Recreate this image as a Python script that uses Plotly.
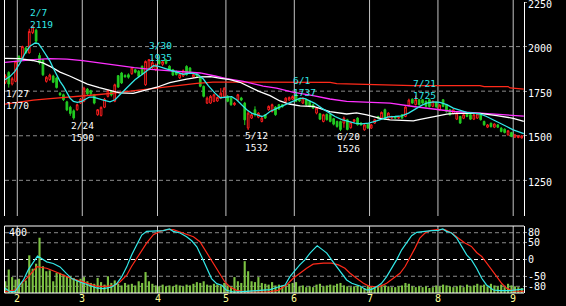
import plotly.graph_objects as go

# ---------------- data ----------------
opens = [1800, 1855, 1790, 1805, 1945, 1935, 1992, 1965, 2078, 2092,
         1950, 1925, 1805, 1815, 1835, 1824, 1738, 1730, 1690, 1660,
         1640, 1646, 1683, 1693, 1762, 1752, 1730, 1618, 1614, 1660,
         1721, 1748, 1693, 1837, 1852, 1838, 1842, 1848, 1870, 1862,
         1889, 1786, 1871, 1880, 1870, 1922, 1900, 1925, 1890, 1870,
         1860, 1825, 1835, 1889, 1880, 1830, 1848, 1824, 1777, 1683,
         1683, 1693, 1695, 1711, 1721, 1721, 1711, 1674, 1700, 1712,
         1683, 1543, 1599, 1646, 1604, 1580, 1618, 1646, 1636, 1661,
         1674, 1674, 1693, 1700, 1705, 1730, 1705, 1683, 1702, 1693,
         1674, 1627, 1623, 1580, 1620, 1618, 1596, 1580, 1580, 1571,
         1590, 1545, 1580, 1599, 1571, 1533, 1565, 1543, 1571, 1608,
         1599, 1646, 1599, 1599, 1608, 1599, 1618, 1608, 1670, 1705,
         1674, 1702, 1702, 1693, 1702, 1665, 1688, 1645, 1702, 1674,
         1646, 1625, 1593, 1608, 1598, 1627, 1618, 1593, 1599, 1618,
         1580, 1548, 1570, 1548, 1561, 1543, 1537, 1505, 1518, 1492,
         1490, 1488]
highs = [1845, 1862, 1830, 1920, 1952, 2005, 2000, 2100, 2119, 2100,
         1965, 1930, 1835, 1848, 1842, 1830, 1745, 1736, 1696, 1668,
         1648, 1680, 1712, 1775, 1768, 1758, 1735, 1650, 1665, 1712,
         1760, 1752, 1792, 1840, 1858, 1845, 1850, 1885, 1876, 1868,
         1895, 1922, 1930, 1935, 1905, 1928, 1920, 1930, 1895, 1875,
         1866, 1852, 1872, 1895, 1885, 1848, 1852, 1830, 1782, 1720,
         1728, 1736, 1720, 1767, 1772, 1728, 1715, 1690, 1735, 1718,
         1690, 1640, 1625, 1665, 1632, 1605, 1622, 1670, 1680, 1666,
         1678, 1678, 1716, 1720, 1726, 1737, 1710, 1716, 1708, 1698,
         1680, 1660, 1628, 1623, 1625, 1622, 1600, 1585, 1585, 1608,
         1595, 1580, 1594, 1604, 1576, 1566, 1570, 1566, 1595, 1612,
         1636, 1652, 1632, 1612, 1612, 1608, 1622, 1666, 1708, 1710,
         1725, 1706, 1706, 1698, 1706, 1698, 1692, 1676, 1706, 1678,
         1650, 1650, 1632, 1612, 1622, 1632, 1622, 1622, 1628, 1622,
         1585, 1566, 1574, 1570, 1565, 1548, 1541, 1532, 1522, 1509,
         1504, 1503]
lows = [1790, 1770, 1782, 1800, 1908, 1925, 1958, 1960, 2070, 2020,
        1900, 1835, 1798, 1808, 1795, 1765, 1722, 1695, 1638, 1612,
        1590, 1640, 1678, 1688, 1728, 1728, 1676, 1612, 1608, 1655,
        1715, 1720, 1688, 1768, 1790, 1826, 1820, 1842, 1850, 1828,
        1840, 1780, 1865, 1872, 1862, 1898, 1890, 1900, 1865, 1835,
        1838, 1818, 1830, 1838, 1846, 1824, 1828, 1772, 1715, 1678,
        1678, 1688, 1690, 1705, 1715, 1688, 1668, 1668, 1695, 1694,
        1560, 1532, 1594, 1608, 1598, 1575, 1594, 1640, 1630, 1612,
        1645, 1658, 1688, 1696, 1700, 1688, 1690, 1678, 1668, 1660,
        1650, 1620, 1588, 1575, 1585, 1575, 1558, 1545, 1526, 1545,
        1530, 1540, 1576, 1557, 1556, 1528, 1538, 1538, 1566, 1594,
        1594, 1588, 1594, 1594, 1594, 1594, 1594, 1604, 1665, 1678,
        1670, 1670, 1678, 1660, 1658, 1660, 1658, 1640, 1660, 1630,
        1612, 1620, 1588, 1566, 1593, 1604, 1588, 1588, 1594, 1585,
        1556, 1543, 1546, 1543, 1543, 1519, 1513, 1500, 1492, 1487,
        1486, 1484]
closes = [1835, 1790, 1820, 1915, 1918, 2000, 1965, 2085, 2112, 2030,
          1910, 1842, 1828, 1840, 1800, 1770, 1730, 1702, 1645, 1625,
          1600, 1674, 1706, 1767, 1735, 1735, 1683, 1646, 1659, 1705,
          1754, 1728, 1786, 1773, 1796, 1830, 1828, 1880, 1856, 1833,
          1845, 1917, 1927, 1910, 1898, 1905, 1915, 1906, 1870, 1840,
          1843, 1845, 1865, 1842, 1852, 1843, 1834, 1777, 1721, 1711,
          1721, 1730, 1715, 1739, 1767, 1693, 1674, 1683, 1730, 1700,
          1589, 1627, 1618, 1618, 1627, 1599, 1599, 1665, 1674, 1618,
          1650, 1662, 1711, 1715, 1720, 1693, 1695, 1711, 1674, 1665,
          1655, 1655, 1593, 1618, 1590, 1580, 1565, 1552, 1535, 1599,
          1535, 1575, 1590, 1562, 1561, 1561, 1543, 1561, 1590, 1599,
          1631, 1593, 1627, 1608, 1599, 1604, 1599, 1661, 1700, 1683,
          1702, 1674, 1683, 1665, 1664, 1693, 1662, 1672, 1664, 1636,
          1618, 1645, 1627, 1571, 1618, 1608, 1593, 1618, 1623, 1590,
          1561, 1561, 1551, 1566, 1548, 1524, 1518, 1528, 1496, 1505,
          1500, 1500]
volume = [70, 140, 95, 80, 85, 60, 75, 225, 145, 175,
          330, 160, 130, 135, 70, 120, 120, 110, 100, 100,
          90, 75, 85, 95, 70, 60, 55, 90, 65, 50,
          100, 60, 75, 55, 45, 60, 50, 55, 45, 70,
          60, 125, 70, 55, 45, 40, 50, 40, 45, 40,
          50, 45, 40, 50, 45, 55, 65, 60, 70, 50,
          45, 55, 50, 45, 60, 45, 40, 95, 70, 60,
          190, 130, 70, 65, 95, 60, 55, 50, 65, 45,
          50, 45, 40, 55, 60, 65, 40, 45, 35, 40,
          35, 50, 55, 40, 45, 50, 45, 55, 60, 45,
          40, 35, 40, 45, 35, 30, 45, 40, 35, 40,
          50, 45, 40, 35, 35, 40, 45, 60, 55, 40,
          35, 40, 35, 40, 30, 35, 45, 40, 50, 45,
          40, 35, 40, 45, 35, 50, 40, 45, 55, 45,
          50, 40, 55, 45, 40, 50, 35, 55, 45, 40,
          35, 30]

# moving averages: [trading-day index, price]
ma_short = [[-0.1, 1814], [1.4, 1833], [2.8, 1861], [4.3, 1908], [5.8, 1964], [7.2, 2002],
            [8.7, 2020], [9.7, 2017], [10.6, 1992], [11.6, 1964], [13.1, 1917], [14, 1880],
            [15, 1842], [16, 1805], [17, 1777], [17.9, 1749], [18.9, 1711], [19.9, 1693],
            [21.1, 1687], [22.3, 1693], [23.3, 1702], [24.6, 1717], [25.7, 1717], [26.7, 1711],
            [27.7, 1702], [28.7, 1700], [30.6, 1690], [32.1, 1702], [33.5, 1730], [35, 1758],
            [36.5, 1786], [37.9, 1814], [39.9, 1842], [41.8, 1871], [43.3, 1893], [44.8, 1889],
            [46.2, 1880], [47.7, 1871], [49.1, 1861], [50.6, 1852], [52, 1845], [53.5, 1850],
            [55, 1850], [56.4, 1842], [57.9, 1818], [59.4, 1780], [61.3, 1739], [62.8, 1713],
            [64.7, 1717], [66.2, 1719], [67.6, 1702], [69.1, 1674], [70.6, 1646], [72, 1627],
            [73.5, 1618], [75, 1608], [76, 1615], [77.4, 1636], [78.9, 1649], [80.3, 1661],
            [81.8, 1674], [83.2, 1687], [84.7, 1702], [86.2, 1711], [87.6, 1708], [89.1, 1693],
            [90.5, 1682], [92.5, 1655], [94.5, 1631], [96.4, 1608], [98.4, 1590], [100.3, 1580],
            [102.2, 1571], [104.2, 1567], [106.2, 1571], [108.1, 1580], [110.1, 1593], [112, 1606],
            [114, 1608], [115.9, 1612], [117.9, 1627], [119.8, 1649], [121.7, 1670], [123.2, 1683],
            [125.2, 1690], [127.1, 1687], [129.1, 1674], [131, 1655], [133, 1642], [134.9, 1631],
            [136.9, 1627], [138.8, 1622], [140.7, 1608], [142.7, 1590], [144.7, 1571], [146.6, 1552],
            [148.5, 1533], [150.5, 1517], [151.6, 1512]]
ma_mid = [[-0.1, 1934], [4, 1932], [8, 1922], [11, 1908], [13.5, 1885], [16, 1857], [18.8, 1835],
          [21, 1814], [24, 1790], [27.5, 1770], [31, 1752], [33.4, 1740], [37.4, 1738], [40.3, 1752],
          [44.3, 1772], [48.1, 1798], [53, 1818], [57, 1830], [60, 1832], [63, 1822], [65.7, 1815],
          [68.6, 1800], [71, 1778], [74, 1750], [77.4, 1725], [80.3, 1695], [83, 1678], [86.2, 1668],
          [90.1, 1664], [94.9, 1635], [99.8, 1622], [102.7, 1628], [105.7, 1617], [109.6, 1598],
          [112.5, 1589], [115.4, 1585], [119.3, 1583], [121.3, 1592], [126.1, 1611], [129.1, 1621],
          [132, 1626], [138.8, 1626], [143.7, 1613], [148.5, 1598], [151.6, 1580]]
ma_long = [[-0.1, 1912], [4, 1920], [8.2, 1927], [13, 1932], [18, 1930], [22.6, 1921], [27.8, 1908],
           [32.6, 1892], [37.7, 1882], [42.5, 1872], [47.2, 1866], [52, 1860], [57, 1852], [61.3, 1835],
           [64.7, 1820], [69.6, 1805], [72.5, 1790], [75.4, 1778], [79.3, 1767], [84, 1745], [90, 1725],
           [94.9, 1706], [99.8, 1693], [105.7, 1687], [112.5, 1683], [119.3, 1664], [125.2, 1650],
           [131, 1636], [138.8, 1627], [148.5, 1612], [151.6, 1610]]
ma_xlong = [[-0.1, 1677], [8.2, 1700], [13.1, 1708], [18, 1715], [21.8, 1721], [26.7, 1730],
            [31.6, 1739], [36.5, 1750], [41.3, 1762], [46.1, 1775], [52, 1786], [56, 1794],
            [60.7, 1801], [95, 1799], [96.9, 1792], [105.7, 1787], [119.2, 1781], [138.8, 1781],
            [140, 1776], [147, 1776], [147.6, 1768], [151.6, 1762]]

# oscillators in the lower panel: [index, value]
osc_fast = [[-0.1, -86], [1.4, -96], [2.8, -96], [3.8, -81], [5.3, -61], [6.7, -31], [8.2, -6],
            [9.4, 10], [10.6, 3], [12.1, -7], [14, -12], [16, -22], [17.9, -42], [19.4, -57],
            [21.8, -67], [24.3, -77], [26.7, -85], [28.7, -87], [31.1, -82], [32.6, -72], [34, -52],
            [35.5, -22], [36.9, 13], [38.4, 43], [39.9, 73], [41.3, 84], [43.8, 84], [46.2, 86],
            [48, 91], [49.1, 84], [51.1, 79], [53, 68], [54.5, 56], [56, 38], [57.4, 8], [58.9, -27],
            [60.3, -57], [61.8, -72], [63.3, -77], [64.7, -92], [66.7, -97], [70.6, -95], [74.5, -92],
            [77.4, -90], [79.8, -82], [81.8, -76], [83.2, -51], [84.7, -31], [86.1, -16], [87.6, -1],
            [89.1, 19], [90.5, 34], [91.2, 41], [92.5, 31], [94, 19], [95.4, -1], [96.9, -21],
            [98.3, -41], [99.8, -61], [101.3, -71], [103.7, -79], [105.6, -91], [107.1, -89],
            [108.6, -81], [110, -71], [111.5, -51], [113, -26], [114.4, -1], [115.9, 29], [117.3, 49],
            [118.8, 71], [120.3, 81], [122.2, 84], [124.6, 86], [126.6, 87], [127.9, 91], [129, 84],
            [130.5, 79], [132, 64], [133.4, 39], [134.9, 14], [136.3, -1], [137.8, -26], [139.3, -56],
            [140.7, -76], [142.7, -91], [144.6, -93], [147.5, -93], [150.5, -89], [151.6, -88]]
osc_slow = [[-0.1, -96], [2.8, -91], [5.3, -66], [7.2, -46], [9.2, -21], [12.1, -26], [14.5, -36],
            [17, -46], [19.4, -57], [21.8, -64], [24.3, -72], [26.7, -80], [29.6, -80], [32.1, -77],
            [33.5, -67], [35.5, -47], [36.9, -21], [38.4, 4], [39.9, 29], [41.3, 49], [43.3, 74],
            [45.2, 84], [47.2, 89], [49.1, 89], [51.1, 82], [53, 76], [55, 68], [56.9, 53], [58.4, 28],
            [59.8, 3], [61.3, -22], [62.8, -47], [64.2, -67], [65.7, -82], [67.6, -92], [70.6, -97],
            [76.4, -97], [79.8, -92], [82.2, -76], [84.2, -56], [86.1, -41], [88.1, -26], [90, -14],
            [93, -11], [95.4, -11], [97.4, -16], [99.3, -26], [100.8, -41], [102.7, -56], [104.7, -71],
            [106.6, -81], [109.5, -81], [111.5, -71], [113.4, -56], [115.4, -41], [116.9, -21],
            [118.3, 4], [119.8, 34], [121.2, 64], [122.7, 79], [124.2, 86], [126.1, 89], [128.5, 89],
            [130.5, 79], [132.4, 64], [134.4, 49], [136.3, 39], [137.8, 21], [139.3, 9], [140.7, -9],
            [142.2, -31], [143.7, -51], [145.1, -71], [146.6, -86], [148.5, -94], [150.5, -95],
            [151.6, -95]]

month_start = [4, 23, 45, 65, 85, 107, 127, 149]
month_text = ["2", "3", "4", "5", "6", "7", "8", "9"]
price_ticks = [2250, 2000, 1750, 1500, 1250]
price_grid = [2000, 1750, 1500, 1250]
osc_ticks = [80, 50, 0, -50, -80]
osc_grid = [80, 50, -50, -80]
vol_label = "400"

ext_idx = [1, 8, 20, 43, 71, 85, 98, 120]
ext_date = ["1/27", "2/7", "2/24", "3/30", "5/12", "6/1", "6/20", "7/21"]
ext_val = [1770, 2119, 1590, 1935, 1532, 1737, 1526, 1725]
ext_kind = ["low", "high", "low", "high", "low", "high", "low", "high"]

# ---------------- styling ----------------
FONT = "DejaVu Sans Mono"
CYAN = "#33e8e8"
RED = "#ff2a1a"
GREEN = "#22cc22"
VOLC = "#7cc242"
MAG = "#ff30ff"
X0, X1 = 5 / 566, 524 / 566
LABX = 525.5 / 566
MAIN_DOM = [0.2646, 1.0]
LOW_DOM = [0.0, 0.2302]

idx = list(range(len(opens)))
fig = go.Figure()

# volume (base of the lower panel)
fig.add_trace(go.Bar(x=idx, y=volume, marker=dict(color=VOLC, line=dict(width=0)),
                     width=0.62, xaxis="x", yaxis="y2", hoverinfo="skip"))

# oscillators
fig.add_trace(go.Scatter(x=[p[0] for p in osc_slow], y=[p[1] for p in osc_slow], mode="lines",
                         line=dict(color=RED, width=1.2), xaxis="x", yaxis="y3"))
fig.add_trace(go.Scatter(x=[p[0] for p in osc_fast], y=[p[1] for p in osc_fast], mode="lines",
                         line=dict(color=CYAN, width=1.2), xaxis="x", yaxis="y3"))

# moving averages
for pts, col in [(ma_xlong, RED), (ma_long, MAG), (ma_mid, "#ffffff"), (ma_short, CYAN)]:
    fig.add_trace(go.Scatter(x=[p[0] for p in pts], y=[p[1] for p in pts], mode="lines",
                             line=dict(color=col, width=1.3), xaxis="x", yaxis="y"))

# candles
fig.add_trace(go.Candlestick(
    x=idx, open=opens, high=highs, low=lows, close=closes,
    increasing=dict(line=dict(color="#ff1e1e", width=1), fillcolor="#000000"),
    decreasing=dict(line=dict(color=GREEN, width=1), fillcolor=GREEN),
    whiskerwidth=0, xaxis="x", yaxis="y"))

shapes = []
for g in price_grid:
    shapes.append(dict(type="line", xref="paper", yref="y", x0=X0, x1=X1, y0=g, y1=g,
                       line=dict(color="#8a8a8a", width=1, dash="4px,3px"), layer="below"))
for g in osc_grid:
    shapes.append(dict(type="line", xref="paper", yref="y3", x0=X0, x1=X1, y0=g, y1=g,
                       line=dict(color="#8a8a8a", width=1, dash="4px,3px"), layer="below"))
shapes.append(dict(type="line", xref="paper", yref="y3", x0=X0, x1=X1, y0=0, y1=0,
                   line=dict(color="#ffffff", width=1, dash="4px,3px"), layer="below"))
for m in month_start:
    for dom in (MAIN_DOM, LOW_DOM):
        shapes.append(dict(type="line", xref="x", yref="paper", x0=m - 0.5, x1=m - 0.5,
                           y0=dom[0], y1=dom[1] + (0.01 if dom is MAIN_DOM else 0),
                           line=dict(color="#c4c4c4", width=1), layer="below"))
bx = 4.5 / 566
shapes += [
    dict(type="line", xref="paper", yref="paper", x0=bx, x1=bx, y0=MAIN_DOM[0], y1=1.01,
         line=dict(color="#ffffff", width=1)),
    dict(type="line", xref="paper", yref="paper", x0=bx, x1=bx, y0=LOW_DOM[0], y1=LOW_DOM[1],
         line=dict(color="#ffffff", width=1)),
    dict(type="line", xref="paper", yref="paper", x0=bx, x1=X1, y0=LOW_DOM[1], y1=LOW_DOM[1],
         line=dict(color="#ffffff", width=1)),
    dict(type="line", xref="paper", yref="paper", x0=bx, x1=X1, y0=LOW_DOM[0], y1=LOW_DOM[0],
         line=dict(color="#ffffff", width=1)),
]

ann = []
for i, d, v, k in zip(ext_idx, ext_date, ext_val, ext_kind):
    col = CYAN if k == "high" else "#ffffff"
    if k == "high":
        ya, ys = "bottom", -7
    else:
        ya, ys = "top", 2
    ann.append(dict(x=i, y=v, xref="x", yref="y", text=f"{d}<br>{v}", showarrow=False,
                    xanchor="left", yanchor=ya, xshift=-5, yshift=ys, align="left",
                    font=dict(family=FONT, size=9.5, color=col)))
for m, t in zip(month_start, month_text):
    ann.append(dict(x=m - 0.5, y=-0.019, xref="x", yref="paper", text=t, showarrow=False,
                    xanchor="center", yanchor="middle",
                    font=dict(family=FONT, size=10, color="#ffff99")))
# right-axis labels
for t in price_ticks:
    ann.append(dict(x=LABX, y=t, xref="paper", yref="y", text=str(t), showarrow=False,
                    xanchor="left", yanchor="middle", yshift=-2,
                    font=dict(family=FONT, size=10, color="#ffffff")))
for t in osc_ticks:
    ann.append(dict(x=LABX, y=t, xref="paper", yref="y3", text=str(t), showarrow=False,
                    xanchor="left", yanchor="middle",
                    font=dict(family=FONT, size=10, color="#ffffff")))
ann.append(dict(x=7 / 566, y=LOW_DOM[1] - 0.021, xref="paper", yref="paper", text=vol_label,
                showarrow=False, xanchor="left", yanchor="middle",
                font=dict(family=FONT, size=10, color="#ffffff")))

fig.update_layout(
    width=566, height=306,
    margin=dict(l=0, r=0, t=2, b=13),
    paper_bgcolor="#000000", plot_bgcolor="#000000",
    showlegend=False,
    shapes=shapes, annotations=ann,
    xaxis=dict(domain=[X0, X1], range=[-0.094, 151.66], anchor="y2",
               showgrid=False, zeroline=False, showticklabels=False, ticks="",
               showline=False, rangeslider=dict(visible=False)),
    yaxis=dict(domain=MAIN_DOM, range=[1050, 2250], side="right", anchor="x",
               tickvals=price_ticks, showticklabels=False,
               showgrid=False, zeroline=False, showline=True, linecolor="#ffffff", linewidth=1,
               ticks="outside", ticklen=2, tickcolor="#909090"),
    yaxis2=dict(domain=LOW_DOM, range=[0, 400], anchor="x", visible=False),
    yaxis3=dict(domain=LOW_DOM, range=[-100, 100], overlaying="y2", side="right", anchor="x",
                tickvals=osc_ticks, showticklabels=False,
                showgrid=False, zeroline=False, showline=True, linecolor="#ffffff", linewidth=1,
                ticks="outside", ticklen=2, tickcolor="#909090"),
)

fig.write_html("out.html")
